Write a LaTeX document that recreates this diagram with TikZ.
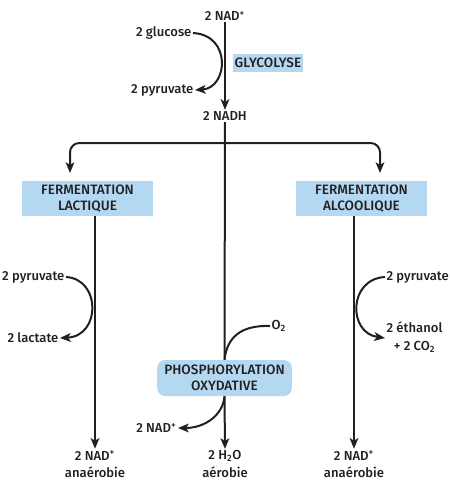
\documentclass[tikz,border=0pt]{standalone}
\usepackage{fontspec}
\setmainfont{Fira Sans}[UprightFont={Fira Sans Medium}]
\usetikzlibrary{arrows.meta}
\definecolor{ink}{HTML}{231F20}
\definecolor{boxblue}{HTML}{B4D8F1}
\tikzset{
  lbl/.style={inner sep=1pt, text=ink, font=\fontsize{9.8}{11}\selectfont},
  lbl2/.style={lbl, align=center, font=\fontsize{9.8}{13}\selectfont},
  bluebox/.style={fill=boxblue, text=ink, align=center, inner sep=0pt, font=\fontsize{10.2}{12.3}\selectfont},
  ln/.style={draw=ink, line width=1.5pt},
  arr/.style={ln, -{Stealth[length=8pt,width=6.5pt,inset=2pt]}},
}
\begin{document}
\begin{tikzpicture}[x=0.75pt,y=-0.75pt]
\useasboundingbox (0,0) rectangle (450,490);
% top
\node[lbl] (nadp) at (225,16) {2 NAD\textsuperscript{+}};
\node[lbl] (nadh) at (225,116) {2 NADH};
\node[lbl, anchor=east] (gluc) at (193,33) {2 glucose};
\node[lbl, anchor=east] (pyr) at (195,90) {2 pyruvate};
\node[bluebox, minimum width=52.5pt, minimum height=13.5pt] (glyco) at (268,63) {GLYCOLYSE};
% boxes
\node[bluebox, minimum width=98pt, minimum height=26.5pt] (lact) at (87.5,198.5) {FERMENTATION\\LACTIQUE};
\node[bluebox, minimum width=98pt, minimum height=26.5pt] (alco) at (361.5,198.5) {FERMENTATION\\ALCOOLIQUE};
\node[bluebox, rounded corners=6pt, minimum width=101pt, minimum height=27pt] (phos) at (224.5,378) {PHOSPHORYLATION\\OXYDATIVE};
% side labels
\node[lbl, anchor=east] (pyrL) at (66,277) {2 pyruvate};
\node[lbl, anchor=east] (lacL) at (60,338) {2 lactate};
\node[lbl, anchor=west] (pyrR) at (385,277) {2 pyruvate};
\node[lbl2, anchor=west] (ethR) at (385,337) {2 éthanol\\+ 2 CO\textsubscript{2}};
\node[lbl, anchor=west] (o2) at (270,326) {O\textsubscript{2}};
\node[lbl, anchor=east] (nadP) at (178,428) {2 NAD\textsuperscript{+}};
% bottom labels
\node[lbl2] (botL) at (95,464) {2 NAD\textsuperscript{+}\\anaérobie};
\node[lbl2] (botC) at (225,464) {2 H\textsubscript{2}O\\aérobie};
\node[lbl2] (botR) at (354,464) {2 NAD\textsuperscript{+}\\anaérobie};
% coordinates
\coordinate (br) at (225,143);
\coordinate (la) at (70,173);
\coordinate (ra) at (380,173);
% main arrows
\draw[arr] (nadp.south) -- (nadh.north);
\draw[arr] (gluc.east) .. controls (232,35) and (228,88) .. (pyr.east);
\draw[ln] (nadh.south) -- (phos.north);
\draw[arr, rounded corners=7pt] (br) -| (la);
\draw[arr, rounded corners=7pt] (br) -| (ra);
\draw[arr] (lact.south -| botL.north) -- (botL.north);
\draw[arr] (alco.south -| botR.north) -- (botR.north);
\draw[arr] (phos.south) -- (botC.north);
\draw[arr] (pyrL.east) .. controls (101,279) and (101,336) .. (lacL.east);
\draw[arr] (pyrR.west) .. controls (348,279) and (348,333) .. (ethR.west |- 0,338);
\draw[ln] (o2.west) .. controls (240,325) and (227,338) .. (phos.north);
\draw[arr] (phos.south) .. controls (223,415) and (205,428) .. (nadP.east);
\end{tikzpicture}
\end{document}
